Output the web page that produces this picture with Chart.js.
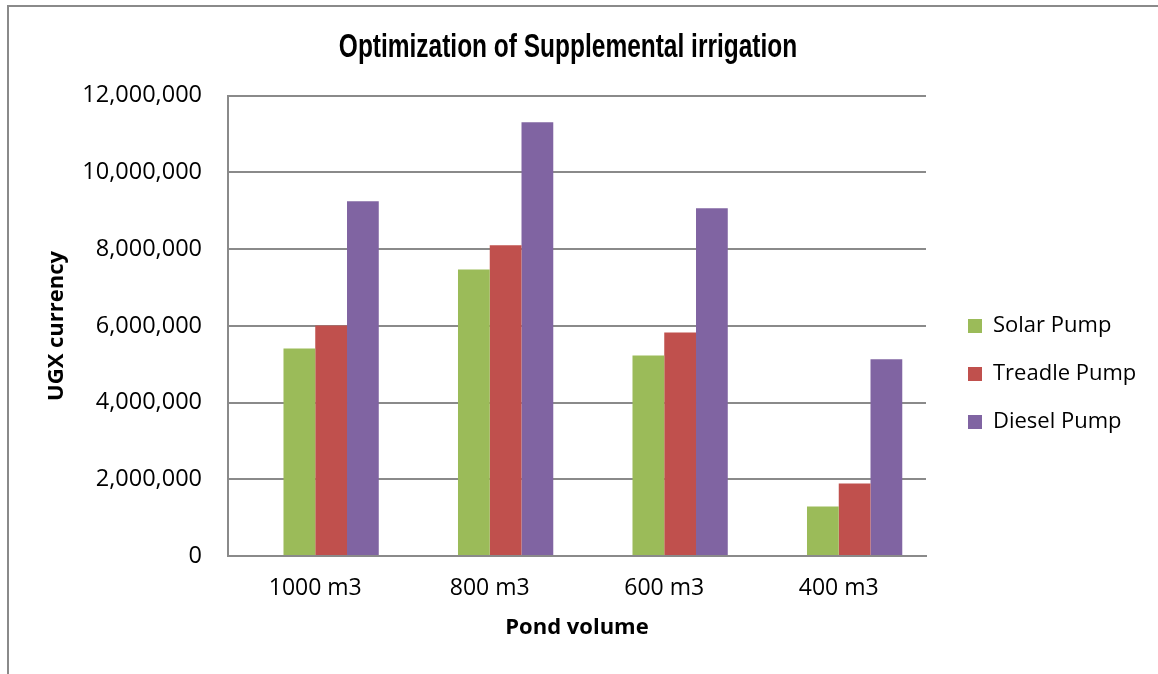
<!DOCTYPE html>
<html>
<head>
<meta charset="utf-8">
<title>Optimization of Supplemental irrigation</title>
<script src="https://cdn.jsdelivr.net/npm/chart.js@4.4.1/dist/chart.umd.min.js"></script>
<style>
  html, body { margin: 0; padding: 0; background: #fff; }
  #wrap { position: relative; width: 1158px; height: 674px; overflow: hidden; }
  #frame {
    position: absolute; left: 7px; top: 5px; width: 1300px; height: 800px;
    border-left: 2px solid #8a8a8a; border-top: 2px solid #8a8a8a;
    pointer-events: none;
  }
  canvas { position: absolute; left: 0; top: 0; }
</style>
</head>
<body>
<div id="wrap">
  <canvas id="chart" width="1158" height="674"></canvas>
  <div id="frame"></div>
</div>
<script>
const categories = ["1000 m3", "800 m3", "600 m3", "400 m3"];
// the source workbook has an empty first series that still takes a bar slot
const blankSeries = [null, null, null, null];
const solarPump = [5410000, 7470000, 5230000, 1290000];
const treadlePump = [6010000, 8100000, 5830000, 1890000];
const dieselPump = [9250000, 11310000, 9070000, 5130000];
const yTickValues = [0, 2000000, 4000000, 6000000, 8000000, 10000000, 12000000];

const BODY_FONT = "'Open Sans', 'Noto Sans', sans-serif";
const TITLE_FONT = "'Liberation Sans', Arial, sans-serif";
const TITLE_SQUEEZE = 0.72; // original title is set in a narrow face
const GRID = "#8a8a8a";

Chart.defaults.color = "#000";
Chart.defaults.font.family = BODY_FONT;

// keep the plot box where the original has it
const layoutTweaks = {
  id: "layoutTweaks",
  afterInit(chart) {
    const legend = chart.legend;
    const fit = legend.fit;
    legend.fit = function () {
      fit.call(this);
      this.width = 232;
    };
    const title = chart.titleBlock;
    const draw = title.draw;
    title.draw = function () {
      const c = this.ctx;
      const cx = (this.left + this.right) / 2;
      c.save();
      c.translate(cx, 0);
      c.scale(TITLE_SQUEEZE, 1);
      c.translate(-cx, 0);
      draw.call(this);
      c.restore();
    };
  },
  afterLayout(chart) {
    const lg = chart.legend;
    lg.left += 16; lg.right += 16;
    lg.top += 37; lg.bottom += 37;
    const t = chart.titleBlock;
    t.left -= 11; t.right -= 11;
  }
};

const ctx = document.getElementById("chart").getContext("2d");
new Chart(ctx, {
  type: "bar",
  data: {
    labels: categories,
    datasets: [
      { label: "", data: blankSeries, backgroundColor: "rgba(0,0,0,0)" },
      { label: "Solar Pump", data: solarPump, backgroundColor: "#9BBB59" },
      { label: "Treadle Pump", data: treadlePump, backgroundColor: "#C0504D" },
      { label: "Diesel Pump", data: dieselPump, backgroundColor: "#8064A2" },
    ],
  },
  options: {
    responsive: false,
    animation: false,
    devicePixelRatio: 1,
    layout: { padding: 0 },
    datasets: {
      bar: { categoryPercentage: 0.728, barPercentage: 1, borderWidth: 0 },
    },
    scales: {
      x: {
        grid: { display: false, drawTicks: false },
        border: { display: true, color: GRID, width: 2 },
        ticks: { font: { size: 23 }, padding: 19, maxRotation: 0 },
        title: {
          display: true,
          text: "Pond volume",
          font: { size: 22, weight: "bold" },
          padding: { top: 0, bottom: 33 },
        },
        afterFit: (scale) => { scale.height = 118; },
      },
      y: {
        min: 0,
        max: 12000000,
        afterBuildTicks: (scale) => {
          scale.ticks = yTickValues.map((v) => ({ value: v }));
        },
        grid: { color: GRID, lineWidth: 2, drawTicks: false },
        border: { display: true, color: GRID, width: 2 },
        ticks: {
          font: { size: 23.5 },
          padding: 26,
          callback: (value) => value.toLocaleString("en-US"),
        },
        title: {
          display: true,
          text: "UGX currency",
          font: { size: 22, weight: "bold" },
          padding: { top: 44, bottom: 0 },
        },
        afterFit: (scale) => { scale.width = 228; },
      },
    },
    plugins: {
      title: {
        display: true,
        text: "Optimization of Supplemental irrigation",
        color: "#000",
        font: { family: TITLE_FONT, size: 34, weight: "bold", lineHeight: 1.2 },
        padding: { top: 27, bottom: 28 },
      },
      legend: {
        position: "right",
        labels: {
          font: { size: 22 },
          boxWidth: 14,
          boxHeight: 14,
          padding: 26,
          filter: (item) => item.text !== "",
        },
      },
      tooltip: { enabled: false },
    },
  },
  plugins: [layoutTweaks],
});
</script>
</body>
</html>
